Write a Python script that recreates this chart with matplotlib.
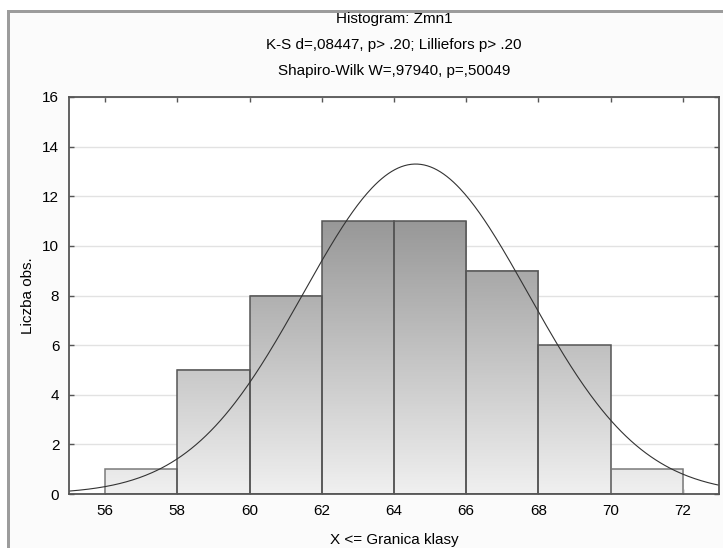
import numpy as np
import matplotlib.pyplot as plt
from matplotlib.colors import LinearSegmentedColormap
from matplotlib.patches import Rectangle

plt.rcParams['font.family'] = ['Liberation Sans', 'DejaVu Sans']

# dane histogramu (klasy: X <= granica)
bin_left = [56, 58, 60, 62, 64, 66, 68, 70]
counts = [1, 5, 8, 11, 11, 9, 6, 1]
bin_width = 2
x_ticks = [56, 58, 60, 62, 64, 66, 68, 70, 72]
y_ticks = [0, 2, 4, 6, 8, 10, 12, 14, 16]

# dopasowany rozklad normalny
n_obs = 52
mean = 64.6
sd = 3.12

title_lines = ["Histogram: Zmn1",
               "K-S d=,08447, p> .20; Lilliefors p> .20",
               "Shapiro-Wilk W=,97940, p=,50049"]

fig = plt.figure(figsize=(7.23, 5.48), dpi=100)
fig.patch.set_facecolor('white')

# tlo okna i szara ramka
fig.patches.append(Rectangle((9 / 723, 0), 1, 1 - 12 / 548, transform=fig.transFigure,
                             facecolor='#fbfbfb', edgecolor='none', zorder=-3))
fig.patches.append(Rectangle((7 / 723, 1 - 13 / 548), 1, 3 / 548, transform=fig.transFigure,
                             facecolor='#9c9c9c', edgecolor='none', zorder=-2))
fig.patches.append(Rectangle((7 / 723, 0), 3 / 723, 1 - 10 / 548, transform=fig.transFigure,
                             facecolor='#9c9c9c', edgecolor='none', zorder=-2))

ax = fig.add_axes([69 / 723, 54 / 548, 650 / 723, 397 / 548])
ax.set_facecolor('white')

cmap = LinearSegmentedColormap.from_list('statgray', ['#f0f0f0', '#707070'])

for left, h in zip(bin_left, counts):
    grad = np.linspace(0, h, 200).reshape(-1, 1)
    ax.imshow(grad, extent=[left, left + bin_width, 0, h], origin='lower',
              aspect='auto', cmap=cmap, vmin=0, vmax=16, zorder=2)
    edge = '#555555' if h > 1 else '#7a7a7a'
    ax.add_patch(Rectangle((left, 0), bin_width, h, facecolor='none',
                           edgecolor=edge, linewidth=1.1, zorder=3))

xs = np.linspace(55, 73, 400)
curve = n_obs * bin_width / (sd * np.sqrt(2 * np.pi)) * np.exp(-0.5 * ((xs - mean) / sd) ** 2)
ax.plot(xs, curve, color='#333333', linewidth=0.8, zorder=4)

ax.set_xlim(55, 73)
ax.set_ylim(0, 16)
ax.set_xticks(x_ticks)
ax.set_yticks(y_ticks)
ax.yaxis.grid(True, color='#e2e2e2', linewidth=1)
ax.set_axisbelow(True)
ax.tick_params(direction='in', length=3.5, width=1, color='#555555',
               top=True, right=True, labelsize=11, pad=7)
for s in ax.spines.values():
    s.set_color('#555555')
    s.set_linewidth(1.3)
    s.set_zorder(5)

ax.set_xlabel("X <= Granica klasy", fontsize=11, labelpad=11)
ax.set_ylabel("Liczba obs.", fontsize=11, labelpad=5)

cx = (69 + 719) / 2 / 723
for i, line in enumerate(title_lines):
    fig.text(cx, 1 - (19 + 26 * i) / 548, line, ha='center', va='center', fontsize=11)

fig.savefig('out.png', dpi=100)
